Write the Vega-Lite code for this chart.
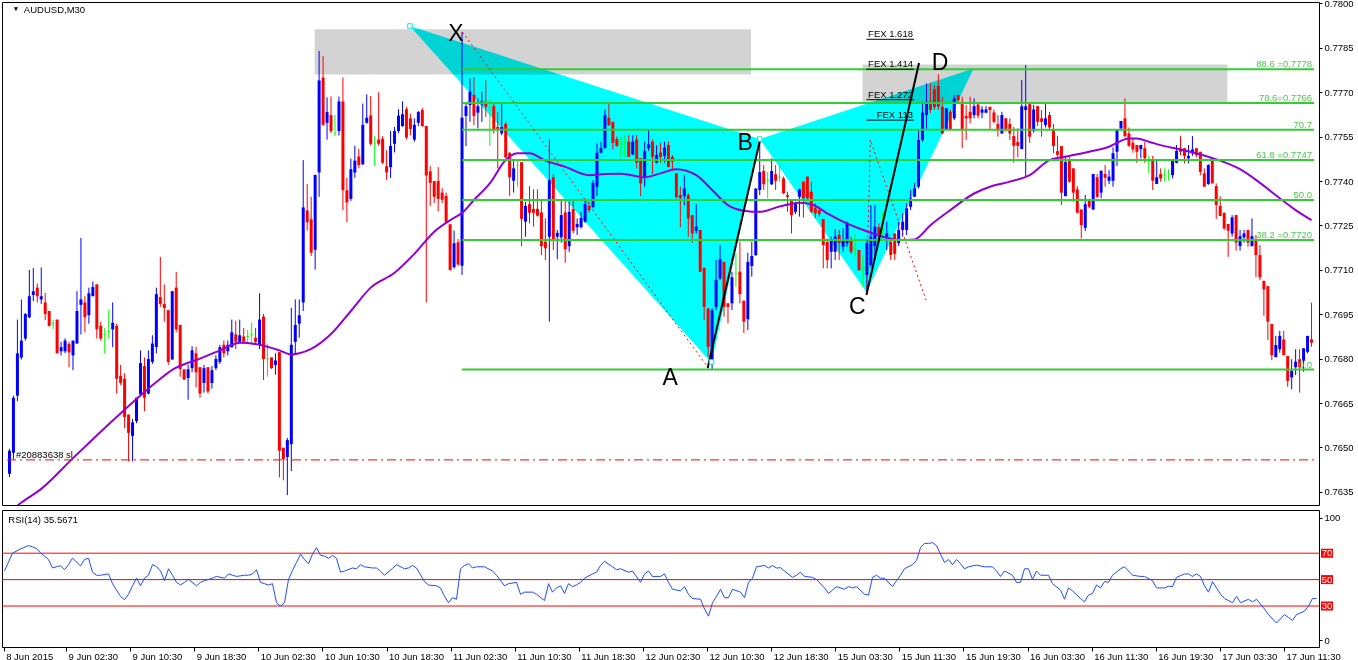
{
"$schema":"https://vega.github.io/schema/vega-lite/v6.json",
"background":"white",
"padding":{"left":1,"top":-3,"right":0,"bottom":0},
"spacing":3,
"config":{"view":{"stroke":"#000000","strokeWidth":1},"text":{"font":"Liberation Sans"}},
"datasets":{
"c":[
{"i":0,"o":0.76411,"h":0.76495,"l":0.76400,"c":0.76489},
{"i":1,"o":0.76482,"h":0.76675,"l":0.76460,"c":0.76668},
{"i":2,"o":0.76675,"h":0.76932,"l":0.76656,"c":0.76818},
{"i":3,"o":0.76804,"h":0.77000,"l":0.76797,"c":0.76861},
{"i":4,"o":0.76868,"h":0.76954,"l":0.76861,"c":0.76951},
{"i":5,"o":0.76940,"h":0.77100,"l":0.76937,"c":0.77011},
{"i":6,"o":0.77015,"h":0.77107,"l":0.76994,"c":0.77028},
{"i":7,"o":0.77040,"h":0.77054,"l":0.76990,"c":0.77011},
{"i":8,"o":0.77000,"h":0.77108,"l":0.76985,"c":0.77011},
{"i":9,"o":0.76990,"h":0.77022,"l":0.76930,"c":0.76951},
{"i":10,"o":0.76961,"h":0.76961,"l":0.76908,"c":0.76911},
{"i":11,"o":0.76918,"h":0.76932,"l":0.76899,"c":0.76918},
{"i":12,"o":0.76932,"h":0.76932,"l":0.76818,"c":0.76818},
{"i":13,"o":0.76825,"h":0.76857,"l":0.76811,"c":0.76839},
{"i":14,"o":0.76825,"h":0.76868,"l":0.76818,"c":0.76861},
{"i":15,"o":0.76850,"h":0.76857,"l":0.76771,"c":0.76821},
{"i":16,"o":0.76811,"h":0.76861,"l":0.76761,"c":0.76861},
{"i":17,"o":0.76851,"h":0.77028,"l":0.76851,"c":0.76961},
{"i":18,"o":0.76982,"h":0.77208,"l":0.76882,"c":0.77000},
{"i":19,"o":0.76990,"h":0.77011,"l":0.76889,"c":0.76940},
{"i":20,"o":0.76947,"h":0.77040,"l":0.76918,"c":0.77021},
{"i":21,"o":0.77011,"h":0.77061,"l":0.77011,"c":0.77042},
{"i":22,"o":0.77051,"h":0.77051,"l":0.76868,"c":0.76899},
{"i":23,"o":0.76911,"h":0.76925,"l":0.76861,"c":0.76868},
{"i":24,"o":0.76882,"h":0.76904,"l":0.76818,"c":0.76882},
{"i":25,"o":0.76892,"h":0.76964,"l":0.76868,"c":0.76892},
{"i":26,"o":0.76899,"h":0.76990,"l":0.76839,"c":0.76921},
{"i":27,"o":0.76911,"h":0.76918,"l":0.76682,"c":0.76732},
{"i":28,"o":0.76742,"h":0.76779,"l":0.76711,"c":0.76718},
{"i":29,"o":0.76732,"h":0.76751,"l":0.76565,"c":0.76603},
{"i":30,"o":0.76611,"h":0.76611,"l":0.76453,"c":0.76549},
{"i":31,"o":0.76539,"h":0.76596,"l":0.76453,"c":0.76585},
{"i":32,"o":0.76589,"h":0.76668,"l":0.76582,"c":0.76668},
{"i":33,"o":0.76679,"h":0.76828,"l":0.76679,"c":0.76785},
{"i":34,"o":0.76775,"h":0.76804,"l":0.76622,"c":0.76668},
{"i":35,"o":0.76682,"h":0.76828,"l":0.76679,"c":0.76799},
{"i":36,"o":0.76789,"h":0.76879,"l":0.76782,"c":0.76851},
{"i":37,"o":0.76839,"h":0.77040,"l":0.76818,"c":0.77018},
{"i":38,"o":0.77008,"h":0.77144,"l":0.76975,"c":0.76985},
{"i":39,"o":0.76985,"h":0.77051,"l":0.76925,"c":0.76971},
{"i":40,"o":0.76964,"h":0.76964,"l":0.76779,"c":0.76789},
{"i":41,"o":0.76797,"h":0.77028,"l":0.76797,"c":0.77028},
{"i":42,"o":0.77040,"h":0.77093,"l":0.76889,"c":0.76899},
{"i":43,"o":0.76914,"h":0.76914,"l":0.76739,"c":0.76765},
{"i":44,"o":0.76764,"h":0.76764,"l":0.76729,"c":0.76729},
{"i":45,"o":0.76735,"h":0.76779,"l":0.76661,"c":0.76764},
{"i":46,"o":0.76768,"h":0.76842,"l":0.76754,"c":0.76828},
{"i":47,"o":0.76818,"h":0.76840,"l":0.76703,"c":0.76754},
{"i":48,"o":0.76771,"h":0.76771,"l":0.76668,"c":0.76682},
{"i":49,"o":0.76718,"h":0.76779,"l":0.76685,"c":0.76768},
{"i":50,"o":0.76771,"h":0.76771,"l":0.76682,"c":0.76689},
{"i":51,"o":0.76718,"h":0.76775,"l":0.76699,"c":0.76761},
{"i":52,"o":0.76768,"h":0.76811,"l":0.76761,"c":0.76799},
{"i":53,"o":0.76789,"h":0.76847,"l":0.76782,"c":0.76839},
{"i":54,"o":0.76847,"h":0.76861,"l":0.76804,"c":0.76818},
{"i":55,"o":0.76825,"h":0.76861,"l":0.76811,"c":0.76847},
{"i":56,"o":0.76839,"h":0.76932,"l":0.76837,"c":0.76889},
{"i":57,"o":0.76882,"h":0.76928,"l":0.76832,"c":0.76857},
{"i":58,"o":0.76857,"h":0.76932,"l":0.76851,"c":0.76879},
{"i":59,"o":0.76875,"h":0.76904,"l":0.76854,"c":0.76857},
{"i":60,"o":0.76875,"h":0.76897,"l":0.76854,"c":0.76875},
{"i":61,"o":0.76882,"h":0.76922,"l":0.76854,"c":0.76882},
{"i":62,"o":0.76871,"h":0.76904,"l":0.76847,"c":0.76857},
{"i":63,"o":0.76847,"h":0.77021,"l":0.76832,"c":0.76932},
{"i":64,"o":0.76942,"h":0.76951,"l":0.76728,"c":0.76799},
{"i":65,"o":0.76799,"h":0.76851,"l":0.76739,"c":0.76799},
{"i":66,"o":0.76804,"h":0.76804,"l":0.76765,"c":0.76768},
{"i":67,"o":0.76779,"h":0.76818,"l":0.76746,"c":0.76794},
{"i":68,"o":0.76822,"h":0.76822,"l":0.76399,"c":0.76489},
{"i":69,"o":0.76499,"h":0.76499,"l":0.76389,"c":0.76460},
{"i":70,"o":0.76468,"h":0.76532,"l":0.76339,"c":0.76525},
{"i":71,"o":0.76511,"h":0.76972,"l":0.76420,"c":0.76847},
{"i":72,"o":0.76857,"h":0.77000,"l":0.76818,"c":0.76914},
{"i":73,"o":0.76918,"h":0.77000,"l":0.76871,"c":0.76947},
{"i":74,"o":0.76990,"h":0.77471,"l":0.76961,"c":0.77311},
{"i":75,"o":0.77301,"h":0.77390,"l":0.77233,"c":0.77261},
{"i":76,"o":0.77271,"h":0.77347,"l":0.77147,"c":0.77158},
{"i":77,"o":0.77168,"h":0.77421,"l":0.77101,"c":0.77421},
{"i":78,"o":0.77429,"h":0.77840,"l":0.77347,"c":0.77740},
{"i":79,"o":0.77750,"h":0.77822,"l":0.77586,"c":0.77590},
{"i":80,"o":0.77597,"h":0.77683,"l":0.77540,"c":0.77633},
{"i":81,"o":0.77623,"h":0.77686,"l":0.77562,"c":0.77569},
{"i":82,"o":0.77562,"h":0.77623,"l":0.77552,"c":0.77562},
{"i":83,"o":0.77569,"h":0.77686,"l":0.77554,"c":0.77669},
{"i":84,"o":0.77669,"h":0.77750,"l":0.77301,"c":0.77369},
{"i":85,"o":0.77369,"h":0.77411,"l":0.77261,"c":0.77328},
{"i":86,"o":0.77340,"h":0.77476,"l":0.77333,"c":0.77440},
{"i":87,"o":0.77429,"h":0.77519,"l":0.77411,"c":0.77469},
{"i":88,"o":0.77483,"h":0.77509,"l":0.77443,"c":0.77454},
{"i":89,"o":0.77457,"h":0.77662,"l":0.77454,"c":0.77590},
{"i":90,"o":0.77597,"h":0.77693,"l":0.77594,"c":0.77614},
{"i":91,"o":0.77622,"h":0.77687,"l":0.77519,"c":0.77526},
{"i":92,"o":0.77526,"h":0.77552,"l":0.77451,"c":0.77526},
{"i":93,"o":0.77540,"h":0.77700,"l":0.77519,"c":0.77526},
{"i":94,"o":0.77543,"h":0.77552,"l":0.77457,"c":0.77462},
{"i":95,"o":0.77450,"h":0.77504,"l":0.77404,"c":0.77429},
{"i":96,"o":0.77447,"h":0.77569,"l":0.77411,"c":0.77519},
{"i":97,"o":0.77526,"h":0.77583,"l":0.77497,"c":0.77569},
{"i":98,"o":0.77569,"h":0.77643,"l":0.77562,"c":0.77621},
{"i":99,"o":0.77586,"h":0.77669,"l":0.77583,"c":0.77626},
{"i":100,"o":0.77643,"h":0.77651,"l":0.77540,"c":0.77547},
{"i":101,"o":0.77612,"h":0.77628,"l":0.77554,"c":0.77576},
{"i":102,"o":0.77540,"h":0.77612,"l":0.77533,"c":0.77590},
{"i":103,"o":0.77597,"h":0.77637,"l":0.77586,"c":0.77633},
{"i":104,"o":0.77640,"h":0.77647,"l":0.77583,"c":0.77586},
{"i":105,"o":0.77586,"h":0.77586,"l":0.76990,"c":0.77419},
{"i":106,"o":0.77433,"h":0.77450,"l":0.77316,"c":0.77394},
{"i":107,"o":0.77400,"h":0.77400,"l":0.77326,"c":0.77347},
{"i":108,"o":0.77400,"h":0.77447,"l":0.77297,"c":0.77340},
{"i":109,"o":0.77361,"h":0.77376,"l":0.77326,"c":0.77337},
{"i":110,"o":0.77350,"h":0.77361,"l":0.77257,"c":0.77261},
{"i":111,"o":0.77254,"h":0.77254,"l":0.77097,"c":0.77100},
{"i":112,"o":0.77109,"h":0.77233,"l":0.77104,"c":0.77190},
{"i":113,"o":0.77193,"h":0.77204,"l":0.77114,"c":0.77118},
{"i":114,"o":0.77114,"h":0.77904,"l":0.77083,"c":0.77614},
{"i":115,"o":0.77620,"h":0.77663,"l":0.77518,"c":0.77653},
{"i":116,"o":0.77657,"h":0.77747,"l":0.77600,"c":0.77702},
{"i":117,"o":0.77691,"h":0.77752,"l":0.77589,"c":0.77620},
{"i":118,"o":0.77631,"h":0.77679,"l":0.77578,"c":0.77653},
{"i":119,"o":0.77659,"h":0.77702,"l":0.77600,"c":0.77670},
{"i":120,"o":0.77663,"h":0.77741,"l":0.77617,"c":0.77651},
{"i":121,"o":0.77649,"h":0.77679,"l":0.77518,"c":0.77649},
{"i":122,"o":0.77653,"h":0.77663,"l":0.77561,"c":0.77572},
{"i":123,"o":0.77583,"h":0.77634,"l":0.77443,"c":0.77572},
{"i":124,"o":0.77561,"h":0.77660,"l":0.77555,"c":0.77583},
{"i":125,"o":0.77593,"h":0.77600,"l":0.77477,"c":0.77480},
{"i":126,"o":0.77496,"h":0.77496,"l":0.77350,"c":0.77413},
{"i":127,"o":0.77401,"h":0.77471,"l":0.77361,"c":0.77443},
{"i":128,"o":0.77452,"h":0.77471,"l":0.77381,"c":0.77452},
{"i":129,"o":0.77464,"h":0.77464,"l":0.77180,"c":0.77272},
{"i":130,"o":0.77263,"h":0.77330,"l":0.77212,"c":0.77316},
{"i":131,"o":0.77322,"h":0.77383,"l":0.77257,"c":0.77293},
{"i":132,"o":0.77306,"h":0.77372,"l":0.77246,"c":0.77293},
{"i":133,"o":0.77306,"h":0.77372,"l":0.77280,"c":0.77283},
{"i":134,"o":0.77294,"h":0.77336,"l":0.77150,"c":0.77180},
{"i":135,"o":0.77195,"h":0.77274,"l":0.77133,"c":0.77173},
{"i":136,"o":0.77212,"h":0.77541,"l":0.76925,"c":0.77403},
{"i":137,"o":0.77413,"h":0.77424,"l":0.77167,"c":0.77198},
{"i":138,"o":0.77212,"h":0.77235,"l":0.77136,"c":0.77225},
{"i":139,"o":0.77210,"h":0.77336,"l":0.77192,"c":0.77285},
{"i":140,"o":0.77294,"h":0.77336,"l":0.77124,"c":0.77170},
{"i":141,"o":0.77180,"h":0.77330,"l":0.77161,"c":0.77296},
{"i":142,"o":0.77306,"h":0.77336,"l":0.77223,"c":0.77232},
{"i":143,"o":0.77244,"h":0.77274,"l":0.77218,"c":0.77255},
{"i":144,"o":0.77244,"h":0.77296,"l":0.77240,"c":0.77275},
{"i":145,"o":0.77263,"h":0.77336,"l":0.77259,"c":0.77322},
{"i":146,"o":0.77316,"h":0.77330,"l":0.77293,"c":0.77302},
{"i":147,"o":0.77313,"h":0.77403,"l":0.77308,"c":0.77394},
{"i":148,"o":0.77381,"h":0.77527,"l":0.77350,"c":0.77496},
{"i":149,"o":0.77496,"h":0.77533,"l":0.77494,"c":0.77511},
{"i":150,"o":0.77511,"h":0.77642,"l":0.77511,"c":0.77623},
{"i":151,"o":0.77614,"h":0.77665,"l":0.77586,"c":0.77589},
{"i":152,"o":0.77600,"h":0.77600,"l":0.77507,"c":0.77529},
{"i":153,"o":0.77542,"h":0.77550,"l":0.77516,"c":0.77519},
{"i":154,"o":0.77525,"h":0.77550,"l":0.77481,"c":0.77525},
{"i":155,"o":0.77528,"h":0.77555,"l":0.77482,"c":0.77528},
{"i":156,"o":0.77533,"h":0.77555,"l":0.77481,"c":0.77482},
{"i":157,"o":0.77490,"h":0.77555,"l":0.77488,"c":0.77533},
{"i":158,"o":0.77541,"h":0.77555,"l":0.77443,"c":0.77462},
{"i":159,"o":0.77477,"h":0.77477,"l":0.77349,"c":0.77392},
{"i":160,"o":0.77413,"h":0.77533,"l":0.77381,"c":0.77501},
{"i":161,"o":0.77511,"h":0.77572,"l":0.77502,"c":0.77524},
{"i":162,"o":0.77533,"h":0.77541,"l":0.77424,"c":0.77482},
{"i":163,"o":0.77462,"h":0.77522,"l":0.77460,"c":0.77488},
{"i":164,"o":0.77496,"h":0.77529,"l":0.77462,"c":0.77482},
{"i":165,"o":0.77485,"h":0.77533,"l":0.77462,"c":0.77513},
{"i":166,"o":0.77522,"h":0.77533,"l":0.77446,"c":0.77448},
{"i":167,"o":0.77482,"h":0.77488,"l":0.77440,"c":0.77465},
{"i":168,"o":0.77426,"h":0.77426,"l":0.77342,"c":0.77345},
{"i":169,"o":0.77353,"h":0.77381,"l":0.77244,"c":0.77342},
{"i":170,"o":0.77349,"h":0.77420,"l":0.77319,"c":0.77375},
{"i":171,"o":0.77353,"h":0.77359,"l":0.77212,"c":0.77274},
{"i":172,"o":0.77285,"h":0.77285,"l":0.77192,"c":0.77223},
{"i":173,"o":0.77232,"h":0.77322,"l":0.77223,"c":0.77246},
{"i":174,"o":0.77235,"h":0.77235,"l":0.77094,"c":0.77094},
{"i":175,"o":0.77107,"h":0.77107,"l":0.76930,"c":0.76975},
{"i":176,"o":0.76970,"h":0.76970,"l":0.76807,"c":0.76840},
{"i":177,"o":0.76795,"h":0.76970,"l":0.76764,"c":0.76964},
{"i":178,"o":0.76975,"h":0.77133,"l":0.76964,"c":0.77066},
{"i":179,"o":0.77071,"h":0.77184,"l":0.77066,"c":0.77136},
{"i":180,"o":0.77127,"h":0.77127,"l":0.76942,"c":0.76975},
{"i":181,"o":0.76987,"h":0.76987,"l":0.76919,"c":0.76975},
{"i":182,"o":0.76987,"h":0.77094,"l":0.76964,"c":0.77075},
{"i":183,"o":0.77088,"h":0.77156,"l":0.77043,"c":0.77088},
{"i":184,"o":0.77094,"h":0.77195,"l":0.76987,"c":0.77018},
{"i":185,"o":0.76996,"h":0.76996,"l":0.76886,"c":0.76925},
{"i":186,"o":0.76933,"h":0.77158,"l":0.76897,"c":0.77127},
{"i":187,"o":0.77113,"h":0.77195,"l":0.77077,"c":0.77147},
{"i":188,"o":0.77150,"h":0.77375,"l":0.77147,"c":0.77375},
{"i":189,"o":0.77370,"h":0.77544,"l":0.77353,"c":0.77430},
{"i":190,"o":0.77434,"h":0.77454,"l":0.77370,"c":0.77389},
{"i":191,"o":0.77403,"h":0.77431,"l":0.77342,"c":0.77403},
{"i":192,"o":0.77389,"h":0.77477,"l":0.77387,"c":0.77434},
{"i":193,"o":0.77423,"h":0.77454,"l":0.77370,"c":0.77401},
{"i":194,"o":0.77413,"h":0.77454,"l":0.77398,"c":0.77413},
{"i":195,"o":0.77409,"h":0.77415,"l":0.77356,"c":0.77359},
{"i":196,"o":0.77353,"h":0.77364,"l":0.77296,"c":0.77347},
{"i":197,"o":0.77336,"h":0.77336,"l":0.77223,"c":0.77285},
{"i":198,"o":0.77296,"h":0.77330,"l":0.77289,"c":0.77325},
{"i":199,"o":0.77347,"h":0.77375,"l":0.77280,"c":0.77372},
{"i":200,"o":0.77398,"h":0.77398,"l":0.77277,"c":0.77342},
{"i":201,"o":0.77415,"h":0.77415,"l":0.77334,"c":0.77342},
{"i":202,"o":0.77364,"h":0.77398,"l":0.77291,"c":0.77296},
{"i":203,"o":0.77308,"h":0.77325,"l":0.77274,"c":0.77291},
{"i":204,"o":0.77302,"h":0.77313,"l":0.77280,"c":0.77289},
{"i":205,"o":0.77272,"h":0.77272,"l":0.77105,"c":0.77184},
{"i":206,"o":0.77195,"h":0.77206,"l":0.77105,"c":0.77133},
{"i":207,"o":0.77161,"h":0.77212,"l":0.77105,"c":0.77201},
{"i":208,"o":0.77161,"h":0.77237,"l":0.77133,"c":0.77212},
{"i":209,"o":0.77218,"h":0.77235,"l":0.77133,"c":0.77190},
{"i":210,"o":0.77178,"h":0.77240,"l":0.77161,"c":0.77201},
{"i":211,"o":0.77190,"h":0.77263,"l":0.77178,"c":0.77259},
{"i":212,"o":0.77198,"h":0.77212,"l":0.77154,"c":0.77161},
{"i":213,"o":0.77173,"h":0.77223,"l":0.77144,"c":0.77173},
{"i":214,"o":0.77167,"h":0.77167,"l":0.77097,"c":0.77099},
{"i":215,"o":0.77105,"h":0.77150,"l":0.77043,"c":0.77105},
{"i":216,"o":0.77083,"h":0.77206,"l":0.77025,"c":0.77190},
{"i":217,"o":0.77116,"h":0.77319,"l":0.77109,"c":0.77212},
{"i":218,"o":0.77180,"h":0.77319,"l":0.77133,"c":0.77246},
{"i":219,"o":0.77244,"h":0.77257,"l":0.77190,"c":0.77218},
{"i":220,"o":0.77237,"h":0.77296,"l":0.77206,"c":0.77237},
{"i":221,"o":0.77212,"h":0.77263,"l":0.77167,"c":0.77223},
{"i":222,"o":0.77195,"h":0.77206,"l":0.77133,"c":0.77150},
{"i":223,"o":0.77223,"h":0.77223,"l":0.77133,"c":0.77154},
{"i":224,"o":0.77190,"h":0.77263,"l":0.77180,"c":0.77235},
{"i":225,"o":0.77235,"h":0.77291,"l":0.77212,"c":0.77263},
{"i":226,"o":0.77235,"h":0.77325,"l":0.77218,"c":0.77308},
{"i":227,"o":0.77313,"h":0.77370,"l":0.77302,"c":0.77342},
{"i":228,"o":0.77347,"h":0.77394,"l":0.77347,"c":0.77375},
{"i":229,"o":0.77381,"h":0.77572,"l":0.77375,"c":0.77539},
{"i":230,"o":0.77539,"h":0.77668,"l":0.77533,"c":0.77631},
{"i":231,"o":0.77623,"h":0.77730,"l":0.77572,"c":0.77668},
{"i":232,"o":0.77668,"h":0.77730,"l":0.77629,"c":0.77640},
{"i":233,"o":0.77710,"h":0.77724,"l":0.77640,"c":0.77649},
{"i":234,"o":0.77721,"h":0.77761,"l":0.77640,"c":0.77651},
{"i":235,"o":0.77651,"h":0.77685,"l":0.77559,"c":0.77561},
{"i":236,"o":0.77575,"h":0.77646,"l":0.77572,"c":0.77646},
{"i":237,"o":0.77634,"h":0.77640,"l":0.77572,"c":0.77575},
{"i":238,"o":0.77612,"h":0.77691,"l":0.77606,"c":0.77679},
{"i":239,"o":0.77691,"h":0.77691,"l":0.77663,"c":0.77674},
{"i":240,"o":0.77668,"h":0.77685,"l":0.77511,"c":0.77572},
{"i":241,"o":0.77620,"h":0.77657,"l":0.77539,"c":0.77612},
{"i":242,"o":0.77634,"h":0.77685,"l":0.77595,"c":0.77612},
{"i":243,"o":0.77623,"h":0.77679,"l":0.77612,"c":0.77653},
{"i":244,"o":0.77659,"h":0.77659,"l":0.77612,"c":0.77621},
{"i":245,"o":0.77631,"h":0.77653,"l":0.77612,"c":0.77642},
{"i":246,"o":0.77631,"h":0.77653,"l":0.77629,"c":0.77642},
{"i":247,"o":0.77651,"h":0.77651,"l":0.77572,"c":0.77640},
{"i":248,"o":0.77632,"h":0.77642,"l":0.77595,"c":0.77600},
{"i":249,"o":0.77593,"h":0.77623,"l":0.77550,"c":0.77572},
{"i":250,"o":0.77561,"h":0.77634,"l":0.77559,"c":0.77623},
{"i":251,"o":0.77612,"h":0.77612,"l":0.77567,"c":0.77572},
{"i":252,"o":0.77593,"h":0.77612,"l":0.77539,"c":0.77561},
{"i":253,"o":0.77552,"h":0.77583,"l":0.77462,"c":0.77519},
{"i":254,"o":0.77532,"h":0.77578,"l":0.77480,"c":0.77519},
{"i":255,"o":0.77508,"h":0.77741,"l":0.77508,"c":0.77653},
{"i":256,"o":0.77640,"h":0.77792,"l":0.77417,"c":0.77653},
{"i":257,"o":0.77660,"h":0.77660,"l":0.77529,"c":0.77550},
{"i":258,"o":0.77570,"h":0.77657,"l":0.77563,"c":0.77642},
{"i":259,"o":0.77653,"h":0.77653,"l":0.77586,"c":0.77600},
{"i":260,"o":0.77612,"h":0.77640,"l":0.77550,"c":0.77600},
{"i":261,"o":0.77589,"h":0.77665,"l":0.77581,"c":0.77612},
{"i":262,"o":0.77623,"h":0.77634,"l":0.77572,"c":0.77581},
{"i":263,"o":0.77575,"h":0.77593,"l":0.77494,"c":0.77519},
{"i":264,"o":0.77501,"h":0.77552,"l":0.77482,"c":0.77489},
{"i":265,"o":0.77518,"h":0.77518,"l":0.77319,"c":0.77361},
{"i":266,"o":0.77349,"h":0.77485,"l":0.77349,"c":0.77464},
{"i":267,"o":0.77473,"h":0.77480,"l":0.77394,"c":0.77398},
{"i":268,"o":0.77443,"h":0.77443,"l":0.77330,"c":0.77361},
{"i":269,"o":0.77372,"h":0.77383,"l":0.77291,"c":0.77293},
{"i":270,"o":0.77304,"h":0.77304,"l":0.77206,"c":0.77251},
{"i":271,"o":0.77242,"h":0.77353,"l":0.77231,"c":0.77322},
{"i":272,"o":0.77334,"h":0.77338,"l":0.77308,"c":0.77313},
{"i":273,"o":0.77304,"h":0.77424,"l":0.77302,"c":0.77424},
{"i":274,"o":0.77413,"h":0.77424,"l":0.77342,"c":0.77347},
{"i":275,"o":0.77361,"h":0.77435,"l":0.77342,"c":0.77435},
{"i":276,"o":0.77424,"h":0.77454,"l":0.77381,"c":0.77411},
{"i":277,"o":0.77401,"h":0.77437,"l":0.77390,"c":0.77415},
{"i":278,"o":0.77401,"h":0.77514,"l":0.77381,"c":0.77494},
{"i":279,"o":0.77499,"h":0.77575,"l":0.77451,"c":0.77575},
{"i":280,"o":0.77578,"h":0.77603,"l":0.77572,"c":0.77603},
{"i":281,"o":0.77612,"h":0.77679,"l":0.77548,"c":0.77552},
{"i":282,"o":0.77561,"h":0.77581,"l":0.77516,"c":0.77519},
{"i":283,"o":0.77529,"h":0.77544,"l":0.77496,"c":0.77507},
{"i":284,"o":0.77522,"h":0.77522,"l":0.77462,"c":0.77499},
{"i":285,"o":0.77508,"h":0.77522,"l":0.77477,"c":0.77522},
{"i":286,"o":0.77511,"h":0.77533,"l":0.77462,"c":0.77477},
{"i":287,"o":0.77465,"h":0.77485,"l":0.77428,"c":0.77465},
{"i":288,"o":0.77473,"h":0.77485,"l":0.77370,"c":0.77401},
{"i":289,"o":0.77390,"h":0.77473,"l":0.77390,"c":0.77413},
{"i":290,"o":0.77424,"h":0.77443,"l":0.77398,"c":0.77409},
{"i":291,"o":0.77420,"h":0.77443,"l":0.77398,"c":0.77420},
{"i":292,"o":0.77417,"h":0.77440,"l":0.77401,"c":0.77417},
{"i":293,"o":0.77420,"h":0.77473,"l":0.77409,"c":0.77471},
{"i":294,"o":0.77462,"h":0.77522,"l":0.77460,"c":0.77502},
{"i":295,"o":0.77511,"h":0.77552,"l":0.77488,"c":0.77499},
{"i":296,"o":0.77511,"h":0.77511,"l":0.77460,"c":0.77485},
{"i":297,"o":0.77477,"h":0.77522,"l":0.77460,"c":0.77485},
{"i":298,"o":0.77494,"h":0.77552,"l":0.77485,"c":0.77507},
{"i":299,"o":0.77511,"h":0.77511,"l":0.77480,"c":0.77488},
{"i":300,"o":0.77499,"h":0.77499,"l":0.77420,"c":0.77431},
{"i":301,"o":0.77426,"h":0.77443,"l":0.77381,"c":0.77381},
{"i":302,"o":0.77390,"h":0.77457,"l":0.77387,"c":0.77454},
{"i":303,"o":0.77469,"h":0.77473,"l":0.77392,"c":0.77392},
{"i":304,"o":0.77383,"h":0.77392,"l":0.77272,"c":0.77319},
{"i":305,"o":0.77316,"h":0.77349,"l":0.77282,"c":0.77282},
{"i":306,"o":0.77293,"h":0.77293,"l":0.77235,"c":0.77240},
{"i":307,"o":0.77255,"h":0.77255,"l":0.77144,"c":0.77232},
{"i":308,"o":0.77223,"h":0.77285,"l":0.77212,"c":0.77277},
{"i":309,"o":0.77285,"h":0.77285,"l":0.77165,"c":0.77192},
{"i":310,"o":0.77180,"h":0.77235,"l":0.77165,"c":0.77214},
{"i":311,"o":0.77210,"h":0.77235,"l":0.77192,"c":0.77223},
{"i":312,"o":0.77235,"h":0.77235,"l":0.77178,"c":0.77192},
{"i":313,"o":0.77180,"h":0.77274,"l":0.77180,"c":0.77214},
{"i":314,"o":0.77201,"h":0.77218,"l":0.77075,"c":0.77150},
{"i":315,"o":0.77150,"h":0.77184,"l":0.77066,"c":0.77075},
{"i":316,"o":0.77063,"h":0.77063,"l":0.76945,"c":0.77034},
{"i":317,"o":0.77045,"h":0.77045,"l":0.76863,"c":0.76925},
{"i":318,"o":0.76917,"h":0.76917,"l":0.76795,"c":0.76812},
{"i":319,"o":0.76805,"h":0.76877,"l":0.76805,"c":0.76846},
{"i":320,"o":0.76832,"h":0.76894,"l":0.76820,"c":0.76877},
{"i":321,"o":0.76865,"h":0.76894,"l":0.76812,"c":0.76812},
{"i":322,"o":0.76809,"h":0.76809,"l":0.76705,"c":0.76725},
{"i":323,"o":0.76737,"h":0.76798,"l":0.76696,"c":0.76759},
{"i":324,"o":0.76771,"h":0.76832,"l":0.76745,"c":0.76790},
{"i":325,"o":0.76798,"h":0.76832,"l":0.76685,"c":0.76771},
{"i":326,"o":0.76793,"h":0.76835,"l":0.76756,"c":0.76835},
{"i":327,"o":0.76823,"h":0.76877,"l":0.76818,"c":0.76877},
{"i":328,"o":0.76865,"h":0.76989,"l":0.76840,"c":0.76854}
],
"ma":[{"i":0,"v":0.76282},{"i":3,"v":0.76314},{"i":8,"v":0.76360},{"i":16,"v":0.76464},{"i":24,"v":0.76566},{"i":32,"v":0.76664},{"i":37,"v":0.76721},{"i":41,"v":0.76762},{"i":48,"v":0.76800},{"i":53,"v":0.76828},{"i":58,"v":0.76854},{"i":63,"v":0.76847},{"i":68,"v":0.76828},{"i":71,"v":0.76814},{"i":73,"v":0.76818},{"i":76,"v":0.76833},{"i":81,"v":0.76883},{"i":86,"v":0.76961},{"i":91,"v":0.77040},{"i":97,"v":0.77090},{"i":102,"v":0.77154},{"i":107,"v":0.77229},{"i":112,"v":0.77276},{"i":114,"v":0.77292},{"i":117,"v":0.77336},{"i":121,"v":0.77392},{"i":125,"v":0.77471},{"i":128,"v":0.77494},{"i":131,"v":0.77494},{"i":135,"v":0.77469},{"i":140,"v":0.77448},{"i":146,"v":0.77420},{"i":150,"v":0.77424},{"i":154,"v":0.77425},{"i":160,"v":0.77413},{"i":164,"v":0.77426},{"i":168,"v":0.77440},{"i":173,"v":0.77420},{"i":177,"v":0.77370},{"i":181,"v":0.77319},{"i":185,"v":0.77300},{"i":189,"v":0.77296},{"i":194,"v":0.77314},{"i":199,"v":0.77327},{"i":202,"v":0.77322},{"i":206,"v":0.77291},{"i":210,"v":0.77263},{"i":215,"v":0.77235},{"i":220,"v":0.77212},{"i":224,"v":0.77201},{"i":228,"v":0.77203},{"i":232,"v":0.77251},{"i":237,"v":0.77302},{"i":243,"v":0.77358},{"i":247,"v":0.77381},{"i":252,"v":0.77398},{"i":257,"v":0.77420},{"i":262,"v":0.77471},{"i":267,"v":0.77485},{"i":272,"v":0.77499},{"i":277,"v":0.77516},{"i":282,"v":0.77544},{"i":284,"v":0.77544},{"i":287,"v":0.77533},{"i":291,"v":0.77518},{"i":295,"v":0.77507},{"i":300,"v":0.77490},{"i":305,"v":0.77469},{"i":310,"v":0.77440},{"i":315,"v":0.77394},{"i":320,"v":0.77342},{"i":324,"v":0.77302},{"i":328,"v":0.77268}],
"rsi":[{"i":0,"r":56.6},{"i":2,"r":70},{"i":4,"r":73.2},{"i":6,"r":75.8},{"i":7,"r":74.8},{"i":8,"r":73.5},{"i":9,"r":70.3},{"i":10,"r":67.8},{"i":11,"r":65.2},{"i":12,"r":58.8},{"i":13,"r":59.8},{"i":14,"r":60.4},{"i":15,"r":57.5},{"i":16,"r":61.4},{"i":17,"r":66.2},{"i":19,"r":60.4},{"i":20,"r":65.2},{"i":21,"r":66.2},{"i":22,"r":55.6},{"i":23,"r":53.3},{"i":24,"r":53.3},{"i":26,"r":54.3},{"i":27,"r":47},{"i":28,"r":42.1},{"i":29,"r":37.3},{"i":30,"r":34.8},{"i":31,"r":38.9},{"i":32,"r":45.3},{"i":33,"r":51.1},{"i":34,"r":45.3},{"i":35,"r":51.1},{"i":36,"r":53.3},{"i":37,"r":61.4},{"i":38,"r":59.8},{"i":39,"r":56.6},{"i":40,"r":49.2},{"i":41,"r":58.2},{"i":42,"r":53.3},{"i":43,"r":47.9},{"i":44,"r":46},{"i":45,"r":47.9},{"i":46,"r":50.2},{"i":48,"r":45.3},{"i":49,"r":47.9},{"i":50,"r":49.2},{"i":52,"r":51.1},{"i":53,"r":52.4},{"i":55,"r":51.1},{"i":56,"r":54.3},{"i":57,"r":53.3},{"i":58,"r":52.4},{"i":60,"r":53.3},{"i":61,"r":53.3},{"i":62,"r":54.3},{"i":63,"r":57.5},{"i":64,"r":47.9},{"i":65,"r":46.9},{"i":66,"r":45.9},{"i":67,"r":46.9},{"i":68,"r":32.5},{"i":69,"r":29.9},{"i":70,"r":32.5},{"i":71,"r":50},{"i":72,"r":57},{"i":73,"r":63},{"i":74,"r":69.3},{"i":75,"r":65.2},{"i":76,"r":62},{"i":77,"r":69.3},{"i":78,"r":74.2},{"i":79,"r":68.4},{"i":80,"r":67.8},{"i":81,"r":66.1},{"i":82,"r":68.4},{"i":83,"r":66.1},{"i":84,"r":55.6},{"i":85,"r":56.5},{"i":87,"r":58.8},{"i":88,"r":58.2},{"i":89,"r":61.3},{"i":90,"r":59.7},{"i":92,"r":58.8},{"i":93,"r":58.8},{"i":94,"r":56.5},{"i":95,"r":53.3},{"i":97,"r":58.5},{"i":98,"r":61.3},{"i":100,"r":58.2},{"i":101,"r":58.8},{"i":102,"r":60.7},{"i":103,"r":58.8},{"i":105,"r":48.5},{"i":106,"r":45.9},{"i":108,"r":45.3},{"i":109,"r":43.7},{"i":110,"r":37.3},{"i":111,"r":32.5},{"i":112,"r":36.3},{"i":113,"r":35.1},{"i":114,"r":58.2},{"i":115,"r":60.7},{"i":116,"r":62},{"i":117,"r":58.8},{"i":118,"r":59.7},{"i":120,"r":59.7},{"i":122,"r":56.5},{"i":123,"r":53.3},{"i":125,"r":45.3},{"i":126,"r":46.9},{"i":128,"r":47.9},{"i":129,"r":38.9},{"i":130,"r":40.5},{"i":132,"r":40.5},{"i":133,"r":38.9},{"i":135,"r":34.1},{"i":136,"r":46.9},{"i":137,"r":40.5},{"i":138,"r":43.7},{"i":139,"r":45.3},{"i":140,"r":39.5},{"i":141,"r":46.9},{"i":142,"r":44.7},{"i":143,"r":46},{"i":144,"r":47.9},{"i":145,"r":51.1},{"i":147,"r":54.3},{"i":148,"r":55.6},{"i":149,"r":60.7},{"i":150,"r":63.9},{"i":152,"r":59.7},{"i":153,"r":57.5},{"i":154,"r":58.2},{"i":156,"r":55.6},{"i":157,"r":56.5},{"i":159,"r":47.9},{"i":160,"r":54.3},{"i":161,"r":56.5},{"i":162,"r":52.4},{"i":164,"r":52.4},{"i":165,"r":54.3},{"i":166,"r":47.9},{"i":167,"r":42.7},{"i":169,"r":41.5},{"i":170,"r":44.7},{"i":171,"r":38.9},{"i":172,"r":35.7},{"i":174,"r":35.1},{"i":175,"r":27.7},{"i":176,"r":22.3},{"i":177,"r":32.5},{"i":178,"r":37.3},{"i":179,"r":42.7},{"i":180,"r":36.3},{"i":181,"r":36.3},{"i":182,"r":42.7},{"i":184,"r":40.5},{"i":185,"r":36.3},{"i":186,"r":47.9},{"i":187,"r":51.1},{"i":188,"r":59.7},{"i":190,"r":60.7},{"i":191,"r":58.8},{"i":192,"r":60.7},{"i":193,"r":58.8},{"i":194,"r":59},{"i":195,"r":56.5},{"i":197,"r":51.7},{"i":198,"r":53.3},{"i":199,"r":55.6},{"i":200,"r":52.4},{"i":202,"r":51.7},{"i":203,"r":50.1},{"i":205,"r":43.7},{"i":206,"r":39.5},{"i":207,"r":42.1},{"i":208,"r":44.7},{"i":210,"r":42.7},{"i":211,"r":44.7},{"i":212,"r":43.7},{"i":213,"r":44.7},{"i":215,"r":38.9},{"i":216,"r":38.3},{"i":217,"r":51.7},{"i":218,"r":53.3},{"i":219,"r":51.1},{"i":220,"r":51.1},{"i":222,"r":44.7},{"i":223,"r":49.2},{"i":224,"r":53.3},{"i":225,"r":58.2},{"i":227,"r":61.3},{"i":228,"r":64.5},{"i":229,"r":74.2},{"i":230,"r":77.4},{"i":231,"r":77.4},{"i":232,"r":78},{"i":233,"r":75.8},{"i":234,"r":69.3},{"i":235,"r":63},{"i":236,"r":65.2},{"i":237,"r":61.3},{"i":238,"r":65.2},{"i":239,"r":62},{"i":240,"r":58.2},{"i":241,"r":59.7},{"i":243,"r":61},{"i":245,"r":59.7},{"i":247,"r":59.7},{"i":248,"r":56.5},{"i":249,"r":52.4},{"i":250,"r":56.5},{"i":252,"r":53.3},{"i":253,"r":47.9},{"i":254,"r":47.9},{"i":255,"r":58.2},{"i":256,"r":58.2},{"i":257,"r":50.1},{"i":258,"r":56.5},{"i":259,"r":53.3},{"i":261,"r":53.3},{"i":262,"r":46.9},{"i":264,"r":42.1},{"i":265,"r":35.1},{"i":266,"r":43.7},{"i":267,"r":41.5},{"i":269,"r":35.7},{"i":270,"r":33.1},{"i":271,"r":38.3},{"i":272,"r":39.5},{"i":273,"r":45.9},{"i":274,"r":43.7},{"i":275,"r":48.5},{"i":276,"r":47.9},{"i":277,"r":53.3},{"i":279,"r":58.2},{"i":280,"r":59.7},{"i":281,"r":56.5},{"i":282,"r":53.3},{"i":284,"r":52.4},{"i":285,"r":52.4},{"i":287,"r":49.2},{"i":288,"r":43.7},{"i":290,"r":43.7},{"i":291,"r":45},{"i":292,"r":44.7},{"i":293,"r":51.7},{"i":295,"r":54.3},{"i":296,"r":54.3},{"i":297,"r":52.4},{"i":298,"r":54.3},{"i":299,"r":52.4},{"i":300,"r":45.3},{"i":301,"r":40.5},{"i":302,"r":48.5},{"i":303,"r":43.7},{"i":304,"r":38.9},{"i":305,"r":35.7},{"i":307,"r":32.5},{"i":308,"r":37.3},{"i":309,"r":32.5},{"i":311,"r":35.1},{"i":312,"r":33.1},{"i":313,"r":35.1},{"i":315,"r":27.7},{"i":316,"r":23.5},{"i":318,"r":17.1},{"i":320,"r":23.5},{"i":321,"r":21.3},{"i":322,"r":19.1},{"i":323,"r":23.5},{"i":325,"r":26.1},{"i":326,"r":29.9},{"i":327,"r":35.7},{"i":328,"r":35.57}],
"rects":[{"x1":76.875,"x2":186.8,"y1":0.77913,"y2":0.77760},{"x1":214.9,"x2":306.8,"y1":0.77794,"y2":0.77667}],
"tri":[{"poly":1,"k":0,"x":100.875,"y":0.77924},{"poly":1,"k":1,"x":176.875,"y":0.76785},{"poly":1,"k":2,"x":189,"y":0.77542},{"poly":1,"k":3,"x":100.875,"y":0.77924},{"poly":2,"k":0,"x":189,"y":0.77542},{"poly":2,"k":1,"x":215.875,"y":0.77025},{"poly":2,"k":2,"x":242.875,"y":0.77780},{"poly":2,"k":3,"x":189,"y":0.77542}],
"fib":[{"lv":0.77778,"t":"88.6 =0.7778"},{"lv":0.77664,"t":"78.6=0.7766"},{"lv":0.77573,"t":"70.7"},{"lv":0.77471,"t":"61.8  =0.7747"},{"lv":0.77336,"t":"50.0"},{"lv":0.77201,"t":"38.2 =0.7720"},{"lv":0.76763,"t":"0.0"}],
"dots":[{"id":1,"k":0,"x":114.125,"y":0.77903},{"id":1,"k":1,"x":175.875,"y":0.76772},{"id":2,"k":0,"x":215.875,"y":0.77025},{"id":2,"k":1,"x":216.875,"y":0.77539},{"id":2,"k":2,"x":230.875,"y":0.76998}],
"blk":[{"id":1,"k":0,"x":175.875,"y":0.76768},{"id":1,"k":1,"x":189.125,"y":0.77542},{"id":2,"k":0,"x":215.875,"y":0.77015},{"id":2,"k":1,"x":229.125,"y":0.77799}],
"fex":[{"lv":0.77879,"t":"FEX 1.618"},{"lv":0.77778,"t":"FEX 1.414"},{"lv":0.77675,"t":"FEX 1.272"},{"lv":0.77606,"t":"FEX 113"}],
"lets":[{"t":"X","x":112.45,"y":0.77898},{"t":"A","x":166.45,"y":0.76736},{"t":"B","x":185.3,"y":0.77527},{"t":"C","x":213.6,"y":0.76975},{"t":"D","x":234.45,"y":0.77798}],
"sq":[{"x":100.875,"y":0.77924},{"x":176.875,"y":0.76789},{"x":189,"y":0.77542}],
"sl":[{"v":0.76458,"t":"#20883638 sl"}],
"ttl":[{"t":"AUDUSD,M30"}],
"lev":[{"lv":70},{"lv":50},{"lv":30}],
"rt":[{"t":"RSI(14) 35.5671"}]
},
"vconcat":[
{"width":1317,"height":503,
"encoding":{
"x":{"type":"quantitative","scale":{"domain":[-0.625,328.625],"nice":false,"zero":false},"axis":null},
"y":{"type":"quantitative","scale":{"domain":[0.763056,0.78005],"nice":false,"zero":false},
"axis":{"orient":"right","title":null,"values":[0.7635,0.765,0.7665,0.768,0.7695,0.771,0.7725,0.774,0.7755,0.777,0.7785,0.78],"format":".4f","tickSize":3,"tickColor":"#000000","labelPadding":2,"labelFont":"Liberation Sans","labelFontSize":9.5,"labelColor":"#000000","labelAlign":"left","labelBaseline":"middle","domain":false,"grid":false,"labelOverlap":false,"labelFlush":false}}},
"layer":[
{"data":{"name":"rects"},"mark":{"type":"rect","color":"#D3D3D3"},
"encoding":{"x":{"field":"x1"},"x2":{"field":"x2"},"y":{"field":"y1"},"y2":{"field":"y2"}}},
{"data":{"name":"tri"},"mark":{"type":"line","fill":"#00FFFF","strokeWidth":0,"blend":"multiply","interpolate":"linear"},
"encoding":{"x":{"field":"x"},"y":{"field":"y"},"detail":{"field":"poly"},"order":{"field":"k"}}},
{"data":{"name":"c"},"mark":{"type":"rule","strokeWidth":1},
"encoding":{"x":{"field":"i"},"y":{"field":"l"},"y2":{"field":"h"},
"color":{"condition":[{"test":"datum.c == datum.o","value":"#00FF00"},{"test":"datum.c > datum.o","value":"#0000FF"}],"value":"#FF0000"}}},
{"data":{"name":"c"},"mark":{"type":"bar","size":3},
"encoding":{"x":{"field":"i"},"y":{"field":"o"},"y2":{"field":"c"},
"color":{"condition":{"test":"datum.c > datum.o","value":"#0000FF"},"value":"#FF0000"}}},
{"data":{"name":"c"},"transform":[{"filter":"datum.c == datum.o"}],"mark":{"type":"tick","orient":"horizontal","size":3,"thickness":1,"color":"#00FF00"},
"encoding":{"x":{"field":"i"},"y":{"field":"c"}}},
{"data":{"name":"ma"},"mark":{"type":"line","color":"#9400D3","strokeWidth":2,"interpolate":"monotone","clip":true},
"encoding":{"x":{"field":"i"},"y":{"field":"v"}}},
{"data":{"name":"fib"},"mark":{"type":"rule","color":"#32CD32","strokeWidth":2},
"encoding":{"x":{"datum":114},"x2":{"datum":328.625},"y":{"field":"lv"}}},
{"data":{"name":"fib"},"mark":{"type":"text","color":"#4CC94C","align":"right","baseline":"alphabetic","dx":-2,"dy":-2,"fontSize":9.5,"font":"Liberation Sans"},
"encoding":{"x":{"datum":328.625},"y":{"field":"lv"},"text":{"field":"t"}}},
{"data":{"name":"sl"},"mark":{"type":"rule","color":"#FF0000","strokeWidth":1,"strokeDash":[9,4,2,4]},
"encoding":{"x":{"datum":-0.625},"x2":{"datum":328.625},"y":{"field":"v"}}},
{"data":{"name":"sl"},"mark":{"type":"text","color":"#000000","align":"left","baseline":"alphabetic","dy":-2,"fontSize":9.5,"font":"Liberation Sans"},
"encoding":{"x":{"datum":1.625},"y":{"field":"v"},"text":{"field":"t"}}},
{"data":{"name":"dots"},"mark":{"type":"line","color":"#FF0000","strokeWidth":1,"strokeDash":[2,3]},
"encoding":{"x":{"field":"x"},"y":{"field":"y"},"detail":{"field":"id"},"order":{"field":"k"}}},
{"data":{"name":"blk"},"mark":{"type":"line","color":"#000000","strokeWidth":2},
"encoding":{"x":{"field":"x"},"y":{"field":"y"},"detail":{"field":"id"},"order":{"field":"k"}}},
{"data":{"name":"fex"},"mark":{"type":"rule","color":"#000000","strokeWidth":1},
"encoding":{"x":{"datum":215.875},"x2":{"datum":227.875},"y":{"field":"lv"}}},
{"data":{"name":"fex"},"mark":{"type":"text","color":"#000000","align":"right","baseline":"alphabetic","dy":-2,"fontSize":9.5,"font":"Liberation Sans"},
"encoding":{"x":{"datum":227.6},"y":{"field":"lv"},"text":{"field":"t"}}},
{"data":{"name":"lets"},"mark":{"type":"text","color":"#000000","align":"center","baseline":"middle","fontSize":23,"font":"Liberation Sans"},
"encoding":{"x":{"field":"x"},"y":{"field":"y"},"text":{"field":"t"}}},
{"data":{"name":"sq"},"mark":{"type":"point","shape":"square","size":20,"filled":true,"fill":"#FFFFFF","stroke":"#00E5E5","strokeWidth":1,"opacity":1},
"encoding":{"x":{"field":"x"},"y":{"field":"y"}}},
{"data":{"name":"ttl"},"mark":{"type":"text","color":"#000000","align":"left","baseline":"middle","fontSize":9.5,"font":"Liberation Sans"},
"encoding":{"x":{"datum":3.625},"y":{"datum":0.77978},"text":{"field":"t"}}},
{"data":{"name":"ttl"},"mark":{"type":"point","shape":"triangle-down","size":18,"filled":true,"color":"#000000","opacity":1},
"encoding":{"x":{"datum":1.625},"y":{"datum":0.77981}}}
]},
{"width":1317,"height":137,
"encoding":{
"x":{"type":"quantitative","scale":{"domain":[-0.625,328.625],"nice":false,"zero":false},
"axis":{"orient":"bottom","title":null,"values":[-0.2,15.375,31.4,47.43,63.45,79.48,95.51,111.53,127.56,143.58,159.61,175.64,191.66,207.69,223.71,239.74,255.77,271.79,287.82,303.84,319.87],
"labelExpr":"datum.value < 5 ? '8 Jun 2015' : ['9 Jun 02:30','9 Jun 10:30','9 Jun 18:30','10 Jun 02:30','10 Jun 10:30','10 Jun 18:30','11 Jun 02:30','11 Jun 10:30','11 Jun 18:30','12 Jun 02:30','12 Jun 10:30','12 Jun 18:30','15 Jun 03:30','15 Jun 11:30','15 Jun 19:30','16 Jun 03:30','16 Jun 11:30','16 Jun 19:30','17 Jun 03:30','17 Jun 11:30'][round((datum.value - 15.375) / 16.026)]",
"labelAlign":"left","labelOffset":2,"labelBaseline":"top","labelPadding":0,"tickSize":4,"tickColor":"#000000","labelFont":"Liberation Sans","labelFontSize":9.5,"labelColor":"#000000","domain":false,"grid":false,"labelOverlap":false,"labelFlush":false}},
"y":{"type":"quantitative","scale":{"domain":[-1.06,102.73],"nice":false,"zero":false},
"axis":{"orient":"right","title":null,"values":[4.2,96.7],"labelExpr":"datum.value > 50 ? '100' : '0'","tickSize":3,"tickColor":"#000000","labelPadding":2,"labelFont":"Liberation Sans","labelFontSize":9.5,"labelColor":"#000000","labelAlign":"left","labelBaseline":"middle","domain":false,"grid":false,"labelOverlap":false,"labelFlush":false}}},
"layer":[
{"data":{"name":"lev"},"mark":{"type":"rule","color":"#FF0000","strokeWidth":1},
"encoding":{"x":{"datum":-0.625},"x2":{"datum":328.625},"y":{"field":"lv"}}},
{"data":{"name":"rsi"},"mark":{"type":"line","color":"#1E4BFF","strokeWidth":1},
"encoding":{"x":{"field":"i"},"y":{"field":"r"}}},
{"data":{"name":"rt"},"mark":{"type":"text","color":"#000000","align":"left","baseline":"middle","fontSize":9.5,"font":"Liberation Sans"},
"encoding":{"x":{"datum":0.95},"y":{"datum":95.2},"text":{"field":"t"}}},
{"data":{"name":"lev"},"mark":{"type":"tick","orient":"horizontal","size":12,"thickness":9,"color":"#FF0000","opacity":1,"clip":false},
"encoding":{"x":{"datum":330.625},"y":{"field":"lv"}}},
{"data":{"name":"lev"},"mark":{"type":"text","color":"#FFFFFF","align":"center","baseline":"middle","fontSize":9.5,"font":"Liberation Sans"},
"encoding":{"x":{"datum":330.625},"y":{"field":"lv"},"text":{"field":"lv"}}}
]}
]
}
